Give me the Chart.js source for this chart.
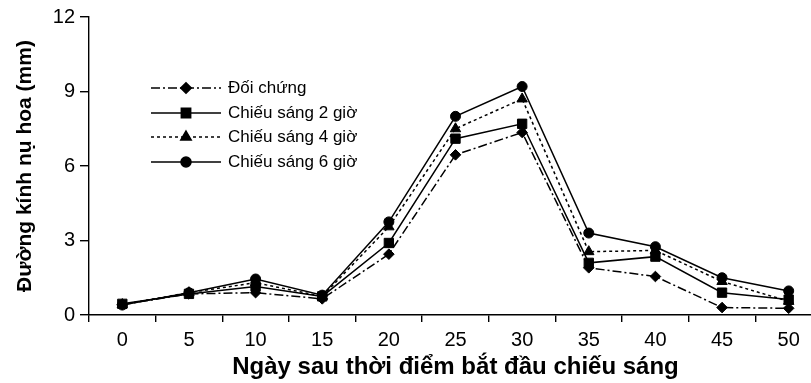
<!DOCTYPE html>
<html>
<head>
<meta charset="utf-8">
<script src="https://cdn.jsdelivr.net/npm/chart.js@4/dist/chart.umd.min.js"></script>
<style>
  html, body { margin: 0; padding: 0; background: #fff; overflow: hidden; }
  #wrap { width: 830px; height: 383px; }
</style>
</head>
<body>
<div id="wrap"><canvas id="c" width="830" height="383"></canvas></div>
<script>
// Days after lighting began
const days = ['0', '5', '10', '15', '20', '25', '30', '35', '40', '45', '50'];

// Flower bud diameter (mm) per treatment
const doiChung = [0.42, 0.85, 0.90, 0.65, 2.45, 6.45, 7.35, 1.90, 1.55, 0.30, 0.27];
const sang2gio = [0.45, 0.85, 1.15, 0.75, 2.90, 7.10, 7.70, 2.10, 2.35, 0.90, 0.62];
const sang4gio = [0.42, 0.90, 1.30, 0.75, 3.55, 7.50, 8.70, 2.55, 2.60, 1.35, 0.55];
const sang6gio = [0.40, 0.90, 1.45, 0.80, 3.75, 8.00, 9.20, 3.30, 2.75, 1.50, 0.97];

const seriesNames = ['Đối chứng', 'Chiếu sáng 2 giờ', 'Chiếu sáng 4 giờ', 'Chiếu sáng 6 giờ'];
const yTicks = [0, 3, 6, 9, 12];

const FONT = "'Liberation Sans', Arial, sans-serif";
const INK = '#000';

function lineSet(label, data, style, radius, dash) {
  return {
    label, data,
    borderColor: INK, backgroundColor: INK,
    borderWidth: 1.5, borderDash: dash,
    pointStyle: style, pointRadius: radius, pointHoverRadius: radius,
    pointBackgroundColor: INK, pointBorderColor: INK, pointBorderWidth: 1,
    tension: 0, fill: false
  };
}

// Legend drawn inside the plot area, using each dataset's own style
const innerLegend = {
  id: 'innerLegend',
  afterDatasetsDraw(chart) {
    const ctx = chart.ctx;
    const x0 = 151, x1 = 221, xm = 186, tx = 228;
    const rows = [88, 113, 137, 162];
    chart.data.datasets.forEach((ds, i) => {
      const y = rows[i];
      ctx.save();
      ctx.strokeStyle = ds.borderColor;
      ctx.lineWidth = ds.borderWidth;
      ctx.setLineDash(ds.borderDash || []);
      ctx.beginPath();
      ctx.moveTo(x0, y); ctx.lineTo(x1, y);
      ctx.stroke();
      ctx.setLineDash([]);
      ctx.fillStyle = INK;
      Chart.helpers.drawPoint(ctx, {
        pointStyle: ds.pointStyle, radius: ds.pointRadius, rotation: 0, borderWidth: 1
      }, xm, y);
      ctx.fillStyle = INK;
      ctx.font = '17px ' + FONT;
      ctx.textBaseline = 'middle';
      ctx.textAlign = 'left';
      ctx.fillText(ds.label, tx, y);
      ctx.restore();
    });
  }
};

new Chart(document.getElementById('c'), {
  type: 'line',
  data: {
    labels: days,
    datasets: [
      lineSet(seriesNames[0], doiChung, 'rectRot', 5.3, [9, 3, 2, 3]),
      lineSet(seriesNames[1], sang2gio, 'rect', 6.6, []),
      lineSet(seriesNames[2], sang4gio, 'triangle', 6, [3, 3]),
      lineSet(seriesNames[3], sang6gio, 'circle', 5, [])
    ]
  },
  options: {
    responsive: false,
    animation: false,
    layout: { padding: { left: 0, right: 8, top: 15, bottom: 0 } },
    plugins: { legend: { display: false }, tooltip: { enabled: false } },
    scales: {
      x: {
        offset: true,
        grid: { offset: true, drawOnChartArea: false, drawTicks: true, tickLength: 7, color: INK, lineWidth: 1.4 },
        border: { color: INK, width: 1.4 },
        ticks: { color: INK, font: { family: FONT, size: 20 }, padding: 6, maxRotation: 0, autoSkip: false },
        title: {
          display: true, text: 'Ngày sau thời điểm bắt đầu chiếu sáng', color: INK,
          font: { family: FONT, size: 24, weight: 'bold' }, padding: { top: 0, bottom: 1 }
        },
        afterFit(scale) { scale.height = 68; }
      },
      y: {
        min: 0, max: 12,
        afterBuildTicks(scale) { scale.ticks = yTicks.map(v => ({ value: v })); },
        grid: { drawOnChartArea: false, drawTicks: true, tickLength: 9, color: INK, lineWidth: 1.4 },
        border: { color: INK, width: 1.4 },
        ticks: { color: INK, font: { family: FONT, size: 20 }, padding: 5 },
        title: {
          display: true, text: 'Đường kính nụ hoa (mm)', color: INK,
          font: { family: FONT, size: 21, weight: 'bold' }, padding: { top: 13, bottom: 0 }
        },
        afterFit(scale) { scale.width = 89; }
      }
    }
  },
  plugins: [innerLegend]
});
</script>
</body>
</html>
